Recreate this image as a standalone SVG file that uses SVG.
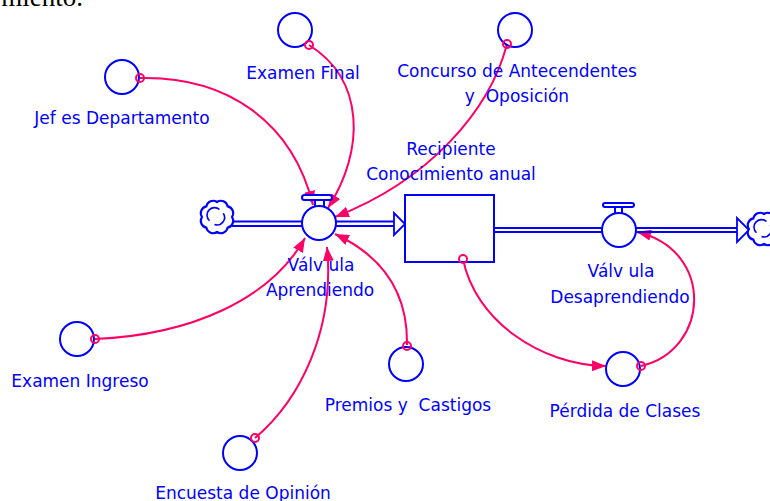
<svg xmlns="http://www.w3.org/2000/svg" width="770" height="501" viewBox="0 0 770 501">
<style>
.lbl{font-family:"DejaVu Sans","Liberation Sans",sans-serif;font-size:17px;fill:#0000FF;text-anchor:middle;white-space:pre}
.aux{fill:none;stroke:#0000FF;stroke-width:2}
.pipe{fill:none;stroke:#0000FF;stroke-width:1.8}
.link{fill:none;stroke:#FF0066;stroke-width:2}
.tail{fill:none;stroke:#FF0066;stroke-width:2}
.valve{fill:#FFFFFF;stroke:#0000FF;stroke-width:2}
</style>
<defs>
<marker id="ah" viewBox="0 0 14 11" refX="14" refY="5.5" markerWidth="14" markerHeight="11" markerUnits="userSpaceOnUse" orient="auto">
<path d="M0,0 L14,5.5 L0,11 z" fill="#FF0066"/>
</marker>
<g id="cloud">
<path d="M12,0 A5.5,5.5 0 0 1 8.5,8.5 A5.5,5.5 0 0 1 0,12 A5.5,5.5 0 0 1 -8.5,8.5 A5.5,5.5 0 0 1 -12,0 A5.5,5.5 0 0 1 -8.5,-8.5 A5.5,5.5 0 0 1 0,-12 A5.5,5.5 0 0 1 8.5,-8.5 A5.5,5.5 0 0 1 12,0 z" fill="#FFFFFF" stroke="#0000FF" stroke-width="1.7"/>
<path d="M-6,3 A6,6 0 0 1 2,-6 M5,-3 A6,6 0 0 1 -2,6" fill="none" stroke="#0000FF" stroke-width="1.3"/>
</g>
</defs>
<rect width="770" height="501" fill="#FFFFFF"/>
<text x="83" y="6" font-family="Liberation Serif, serif" font-size="27" fill="#000000" text-anchor="end">miento.</text>

<g id="connectors">
<path class="link" d="M140,78 C225,76 292,120 313,205" marker-end="url(#ah)"/>
<path class="link" d="M309,45 C365,80 365,150 328,208" marker-end="url(#ah)"/>
<path class="link" d="M507,44 C490,110 430,180 335,217" marker-end="url(#ah)"/>
<path class="link" d="M95,339 C190,335 270,300 305,238" marker-end="url(#ah)"/>
<path class="link" d="M255,438 C300,400 335,330 327,247" marker-end="url(#ah)"/>
<path class="link" d="M407,345 C408,290 380,255 335,234" marker-end="url(#ah)"/>
<path class="link" d="M463,259 C475,320 540,365 606,366" marker-end="url(#ah)"/>
<path class="link" d="M641,366 C710,350 715,250 637,232" marker-end="url(#ah)"/>
</g>

<g id="flow-in">
<use href="#cloud" transform="translate(217,217) scale(1.25)"/>
<line class="pipe" x1="232" y1="221.5" x2="302" y2="221.5"/>
<line class="pipe" x1="232" y1="226" x2="302" y2="226"/>
<line class="pipe" x1="336" y1="221.5" x2="394" y2="221.5"/>
<line class="pipe" x1="336" y1="226" x2="394" y2="226"/>
<path class="pipe" d="M394,213 L405,224 L394,235 z" fill="#FFFFFF"/>
</g>

<g id="flow-out">
<line class="pipe" x1="494" y1="228" x2="602" y2="228"/>
<line class="pipe" x1="494" y1="232" x2="602" y2="232"/>
<line class="pipe" x1="636" y1="228" x2="737" y2="228"/>
<line class="pipe" x1="636" y1="232" x2="737" y2="232"/>
<path class="pipe" d="M737,218 L749,230 L737,242 z" fill="#FFFFFF"/>
<use href="#cloud" transform="translate(764,229) scale(1.25)"/>
</g>

<g id="valve-aprendiendo">
<rect x="302" y="195" width="30" height="5" rx="2.5" class="valve"/>
<line x1="315" y1="200" x2="315" y2="206" stroke="#0000FF" stroke-width="2"/>
<line x1="324" y1="200" x2="324" y2="206" stroke="#0000FF" stroke-width="2"/>
<circle cx="319" cy="223" r="17" class="valve"/>
<text class="lbl" x="321" y="271">Válv ula</text>
<text class="lbl" x="320" y="296">Aprendiendo</text>
</g>

<g id="stock">
<rect x="405" y="195" width="89" height="67" fill="#FFFFFF" stroke="#0000FF" stroke-width="2"/>
<text class="lbl" x="451" y="155">Recipiente</text>
<text class="lbl" x="451" y="180">Conocimiento anual</text>
</g>

<g id="valve-desaprendiendo">
<rect x="603" y="203" width="31" height="4" rx="2" class="valve"/>
<line x1="615" y1="207" x2="615" y2="213" stroke="#0000FF" stroke-width="2"/>
<line x1="622" y1="207" x2="622" y2="213" stroke="#0000FF" stroke-width="2"/>
<circle cx="619" cy="230" r="17" class="valve"/>
<text class="lbl" x="621" y="277">Válv ula</text>
<text class="lbl" x="620" y="303">Desaprendiendo</text>
</g>

<g id="jefes">
<circle class="aux" cx="122" cy="77" r="17"/>
<circle class="tail" cx="140" cy="78" r="4"/>
<text class="lbl" x="122" y="124">Jef es Departamento</text>
</g>

<g id="examen-final">
<circle class="aux" cx="295" cy="30" r="17"/>
<circle class="tail" cx="309" cy="45" r="4"/>
<text class="lbl" x="303" y="79">Examen Final</text>
</g>

<g id="concurso">
<circle class="aux" cx="515" cy="30" r="17"/>
<circle class="tail" cx="507" cy="44" r="4"/>
<text class="lbl" x="517" y="77">Concurso de Antecendentes</text>
<text class="lbl" x="517" y="102">y  Oposición</text>
</g>

<g id="examen-ingreso">
<circle class="aux" cx="77" cy="339" r="17"/>
<circle class="tail" cx="95" cy="339" r="4"/>
<text class="lbl" x="80" y="387">Examen Ingreso</text>
</g>

<g id="encuesta">
<circle class="aux" cx="240" cy="453" r="17"/>
<circle class="tail" cx="255" cy="438" r="4"/>
<text class="lbl" x="243" y="499">Encuesta de Opinión</text>
</g>

<g id="premios">
<circle class="aux" cx="406" cy="364" r="17"/>
<circle class="tail" cx="407" cy="346" r="4"/>
<text class="lbl" x="408" y="411">Premios y  Castigos</text>
</g>

<g id="perdida">
<circle class="aux" cx="623" cy="369" r="17"/>
<circle class="tail" cx="641" cy="366" r="4"/>
<text class="lbl" x="625" y="417">Pérdida de Clases</text>
</g>
<circle class="tail" cx="463" cy="259" r="4"/>
</svg>
